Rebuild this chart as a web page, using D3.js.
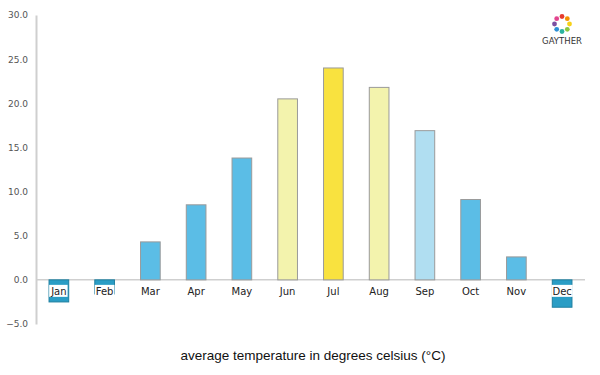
<!DOCTYPE html>
<html>
<head>
<meta charset="utf-8">
<script src="https://cdn.jsdelivr.net/npm/d3@7"></script>
<style>
  body { margin: 0; background: #fff; }
  svg { display: block; }
</style>
</head>
<body>
<svg id="chart"></svg>
<script>
'use strict'

const months = ["Jan", "Feb", "Mar", "Apr", "May", "Jun", "Jul", "Aug", "Sep", "Oct", "Nov", "Dec"]
const temps = [-2.5, -1.6, 4.3, 8.5, 13.8, 20.5, 24.0, 21.8, 16.9, 9.1, 2.6, -3.1]
const barColors = ["#2a9dc5", "#2a9dc5", "#5bbde6", "#5bbde6", "#5bbde6", "#f3f3ad", "#f9e23f", "#f3f3ad", "#b0def1", "#5bbde6", "#5bbde6", "#2a9dc5"]
const yTicks = [-5, 0, 5, 10, 15, 20, 25, 30]
const logoColors = ["#e63b2e", "#f39200", "#f7d117", "#8cc63f", "#2bb3a0", "#2d8fd5", "#7b4fa0", "#e2458f"]

const chartWidth = 600,
      chartHeight = 375,
      plotLeft = 36,
      plotRight = 585,
      plotTop = 15,
      plotBottom = 324

const svg = d3.select("#chart")
  .attr("width", chartWidth)
  .attr("height", chartHeight)

const x = d3.scaleBand()
  .domain(months)
  .range([plotLeft, plotRight])
  .paddingInner(0.57)
  .paddingOuter(0.285)

const y = d3.scaleLinear()
  .domain([-5, 30])
  .range([plotBottom, plotTop])

// y axis
const yAxis = svg.append("g")
  .attr("transform", `translate(${plotLeft},0)`)
  .call(d3.axisLeft(y).tickValues(yTicks).tickFormat(d3.format(".1f")).tickSize(0).tickPadding(8))
yAxis.select(".domain").attr("stroke", "#cfcfcf").attr("stroke-width", 2)
yAxis.selectAll("text")
  .attr("fill", "#555")
  .style("font-family", "'DejaVu Sans', sans-serif")
  .style("font-size", "9px")

// zero line
svg.append("line")
  .attr("x1", plotLeft).attr("x2", plotRight)
  .attr("y1", y(0)).attr("y2", y(0))
  .attr("stroke", "#cfcfcf")
  .attr("stroke-width", 1.5)

// bars
svg.append("g").selectAll("rect")
  .data(temps)
  .join("rect")
    .attr("x", (d, i) => x(months[i]))
    .attr("width", x.bandwidth())
    .attr("y", d => y(Math.max(0, d)))
    .attr("height", d => Math.abs(y(d) - y(0)))
    .attr("fill", (d, i) => barColors[i])
    .attr("stroke", d => d < 0 ? "#1e7fa0" : "#9a9a9a")
    .attr("stroke-width", 1)

// month labels, white box behind each
const labels = svg.append("g").selectAll("g")
  .data(months)
  .join("g")
    .attr("transform", d => `translate(${x(d) + x.bandwidth() / 2},${y(0) + 15})`)

labels.append("text")
  .attr("text-anchor", "middle")
  .attr("fill", "#222")
  .style("font-family", "'DejaVu Sans', sans-serif")
  .style("font-size", "10px")
  .text(d => d)

labels.each(function () {
  const g = d3.select(this)
  const b = g.select("text").node().getBBox()
  g.insert("rect", "text")
    .attr("x", b.x - 1).attr("y", b.y - 1)
    .attr("width", b.width + 2).attr("height", b.height + 1)
    .attr("fill", "#fff")
})

// caption
svg.append("text")
  .attr("x", 313).attr("y", 360)
  .attr("text-anchor", "middle")
  .attr("fill", "#111")
  .style("font-family", "'Liberation Sans', Arial, sans-serif")
  .style("font-size", "13.5px")
  .text("average temperature in degrees celsius (°C)")

// logo
const logo = svg.append("g").attr("transform", "translate(562,24)")
logo.selectAll("circle")
  .data(logoColors)
  .join("circle")
    .attr("cx", (d, i) => 7.5 * Math.cos(i / logoColors.length * 2 * Math.PI - Math.PI / 2))
    .attr("cy", (d, i) => 7.5 * Math.sin(i / logoColors.length * 2 * Math.PI - Math.PI / 2))
    .attr("r", 2.4)
    .attr("fill", d => d)
logo.append("text")
  .attr("y", 20)
  .attr("text-anchor", "middle")
  .attr("fill", "#333")
  .style("font-family", "'DejaVu Sans', sans-serif")
  .style("font-size", "8.5px")
  .text("GAYTHER")
</script>
</body>
</html>
